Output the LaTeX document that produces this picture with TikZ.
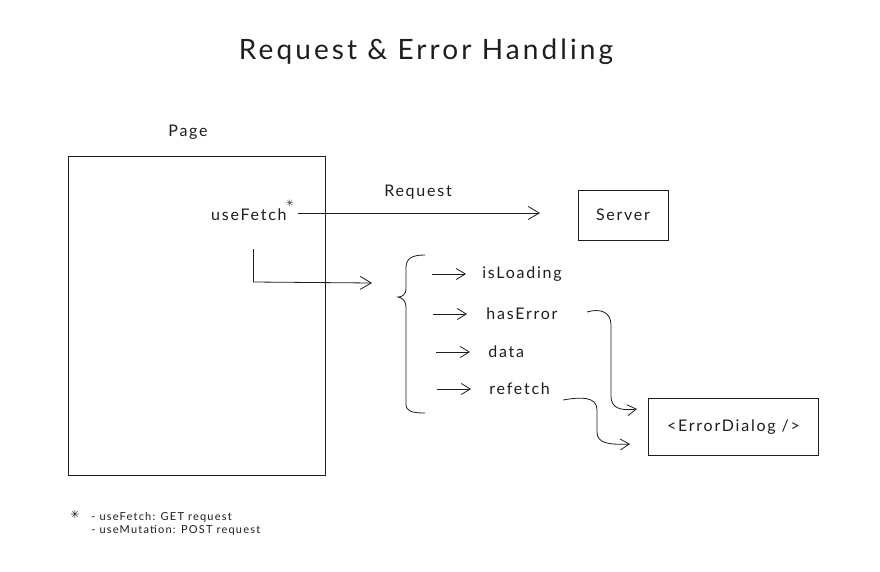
\documentclass[tikz,border=0pt]{standalone}
\usepackage{fontspec}
\setmainfont{Lato}[LetterSpace=11]
\newfontfamily\symfont{DejaVu Sans}
\usetikzlibrary{arrows.meta}
\definecolor{ink}{HTML}{1E1E1E}
\begin{document}
\begin{tikzpicture}[x=1pt,y=-1pt,
  line width=0.8pt, draw=ink, text=ink,
  txt/.style={inner sep=0pt, font=\fontsize{16}{18}\selectfont},
  small/.style={inner sep=0pt, font=\fontsize{11}{13}\selectfont, align=left},
  box/.style={draw=ink, inner sep=0pt, font=\fontsize{16}{18}\selectfont},
  arr/.style={-{Straight Barb[length=11pt,width=13pt,line width=0.8pt]}},
  sarr/.style={-{Straight Barb[length=9pt,width=11pt,line width=0.8pt]}},
  link/.style={draw=ink, line width=0.8pt}]
\useasboundingbox[fill=white] (0,0) rectangle (880,572);

% title
\node[inner sep=0pt, font=\fontsize{28}{30}\selectfont] (title) at (426,52) {Request \& Error Handling};

% page
\node[txt] (pagelbl) at (188,132) {Page};
\node[draw=ink, anchor=north west, minimum width=257pt, minimum height=319pt, inner sep=0pt] (page) at (68,156) {};
\node[txt, anchor=east] (uf) at (287,215) {useFetch};
\node[inner sep=0pt, font=\symfont\fontsize{9}{9}\selectfont] (star) at (290,203) {✳};

% server
\node[box, minimum width=90pt, minimum height=50pt] (server) at (623,215) {Server};
\node[txt] (reqlbl) at (418,192) {Request};
\coordinate (rs) at (298,213);
\coordinate (re) at (540,213);
\draw[link, arr] (rs) -- (re);

% corner connector to brace
\coordinate (c1) at (253,249);
\coordinate (c2) at (253,282);
\coordinate (c3) at (372,283);
\draw[link] (c1) -- (c2);
\draw[link, arr] (c2) -- (c3);

% brace
\coordinate (btop) at (425,255);
\coordinate (btip) at (398,297);
\coordinate (bbot) at (425,413);
\draw[link] (btop) .. controls (411,255) and (406,259) .. (406,268)
  -- (406,288) .. controls (406,295) and (402,297) .. (btip)
  .. controls (402,298) and (406,300) .. (406,308)
  -- (406,404) .. controls (406,411) and (411,413) .. (bbot);

% outputs
\node[txt, anchor=west] (isl) at (482,274) {isLoading};
\node[txt, anchor=west] (hase) at (486,314) {hasError};
\node[txt, anchor=west] (data) at (488,352) {data};
\node[txt, anchor=west] (ref) at (489,389) {refetch};
\draw[link, sarr] ([xshift=-50pt]isl.west) -- ([xshift=-16pt]isl.west);
\draw[link, sarr] ([xshift=-53pt]hase.west) -- ([xshift=-19pt]hase.west);
\draw[link, sarr] ([xshift=-52pt]data.west) -- ([xshift=-18pt]data.west);
\draw[link, sarr] ([xshift=-52pt]ref.west) -- ([xshift=-18pt]ref.west);

% error dialog
\node[box, anchor=north west, minimum width=170pt, minimum height=57pt] (err) at (648,398) {\textless ErrorDialog /\textgreater};

\coordinate (h1) at (587,312);
\coordinate (h2) at (637,409);
\draw[link, sarr] (h1) .. controls (600,308) and (611,312) .. (611,325)
  -- (611,396) .. controls (611,408) and (620,411) .. (h2);
\coordinate (r1) at (563,400);
\coordinate (r2) at (630,444);
\draw[link, sarr] (r1) .. controls (580,397) and (597,396) .. (597,410)
  -- (597,432) .. controls (597,443) and (608,445) .. (r2);

% footnote
\node[inner sep=0pt, font=\symfont\fontsize{11}{11}\selectfont] (fstar) at (75,514) {✳};
\node[small, anchor=north west] (fn) at (91,512) {- useFetch: GET request\\- useMutation: POST request};
\end{tikzpicture}
\end{document}
